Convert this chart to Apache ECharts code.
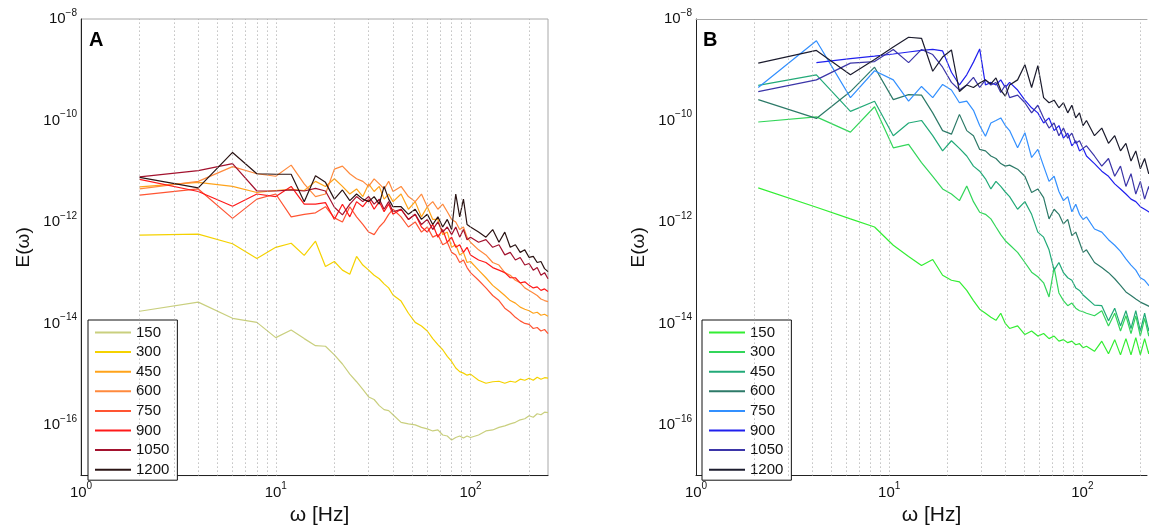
<!DOCTYPE html>
<html>
<head>
<meta charset="utf-8">
<script src="https://cdn.jsdelivr.net/npm/echarts@6/dist/echarts.min.js"></script>
<style>html,body{margin:0;padding:0;background:#fff}#c{width:1150px;height:531px}</style>
</head>
<body>
<div id="c"></div>
<script>
// ---------- DATA (values are log10 of E(ω)) ----------
const labels = ['150','300','450','600','750','900','1050','1200'];
const xGridLines = [2,3,4,5,6,7,8,9,10,20,30,40,50,60,70,80,90,100,200];
const yGridLines = [1e-16,1e-14,1e-12,1e-10];

// Panel A frequencies (Hz)
const fA = [2,4,6,8,10,12,14,16,18,20,22,24,26,28,30,32,34,36,38,40,44,48,52,56,60,64,68,72,76,80,84,88,92,96,100,110,120,130,140,150,160,170,180,190,200,210,220,230,240,250];
const A150 = [-13.76,-13.58,-13.9,-13.98,-14.28,-14.13,-14.3,-14.44,-14.45,-14.62,-14.8,-15.0,-15.15,-15.3,-15.45,-15.5,-15.62,-15.7,-15.72,-15.8,-15.95,-15.98,-16.0,-16.05,-16.08,-16.12,-16.1,-16.2,-16.22,-16.3,-16.25,-16.22,-16.26,-16.22,-16.25,-16.2,-16.12,-16.1,-16.05,-16.02,-15.98,-15.95,-15.9,-15.88,-15.82,-15.85,-15.78,-15.8,-15.75,-15.76];
const A300 = [-12.26,-12.24,-12.43,-12.72,-12.5,-12.42,-12.66,-12.38,-12.88,-12.78,-12.95,-13.03,-12.68,-12.85,-12.95,-13.05,-13.12,-13.22,-13.3,-13.44,-13.56,-13.8,-13.98,-14.05,-14.15,-14.3,-14.42,-14.52,-14.65,-14.75,-14.88,-14.95,-14.98,-15.02,-15.0,-15.12,-15.18,-15.15,-15.14,-15.18,-15.14,-15.16,-15.1,-15.12,-15.08,-15.12,-15.06,-15.1,-15.07,-15.08];
const A450 = [-11.31,-11.22,-11.3,-11.42,-11.38,-11.36,-11.38,-11.2,-11.3,-11.15,-11.3,-11.45,-11.35,-11.5,-11.25,-11.4,-11.3,-11.55,-11.45,-11.6,-11.45,-11.75,-11.6,-11.9,-11.7,-11.95,-11.95,-12.25,-12.2,-12.5,-12.45,-12.65,-12.6,-12.8,-12.78,-12.95,-13.1,-13.25,-13.35,-13.45,-13.55,-13.6,-13.68,-13.72,-13.75,-13.8,-13.78,-13.84,-13.82,-13.86];
const A600 = [-11.35,-11.2,-10.91,-11.05,-11.1,-10.88,-11.25,-11.5,-11.45,-10.96,-10.9,-11.05,-11.15,-11.2,-11.3,-11.15,-11.25,-11.35,-11.2,-11.4,-11.3,-11.5,-11.6,-11.45,-11.7,-11.6,-11.75,-11.65,-11.8,-11.95,-12.0,-12.15,-12.1,-12.3,-12.4,-12.55,-12.65,-12.8,-12.85,-13.0,-13.05,-13.15,-13.2,-13.3,-13.35,-13.4,-13.45,-13.52,-13.55,-13.57];
const A750 = [-11.47,-11.35,-11.93,-11.55,-11.45,-11.9,-11.85,-11.82,-11.7,-11.92,-12.0,-11.7,-11.9,-12.05,-12.2,-12.25,-12.1,-12.0,-11.85,-11.75,-11.9,-12.1,-12.0,-12.2,-12.1,-12.3,-12.25,-12.45,-12.4,-12.6,-12.65,-12.8,-12.75,-12.9,-13.0,-13.15,-13.3,-13.45,-13.55,-13.7,-13.78,-13.88,-13.95,-14.0,-14.02,-14.1,-14.08,-14.15,-14.12,-14.2];
const A900 = [-11.16,-11.4,-11.69,-11.45,-11.5,-11.3,-11.65,-11.65,-11.62,-11.95,-11.65,-11.9,-11.6,-11.7,-11.55,-11.75,-11.6,-11.8,-11.65,-11.85,-11.75,-11.95,-11.85,-12.1,-12.2,-12.05,-12.3,-12.15,-12.4,-12.3,-12.5,-12.45,-12.6,-12.5,-12.65,-12.75,-12.8,-12.9,-12.95,-13.0,-13.1,-13.1,-13.2,-13.18,-13.25,-13.3,-13.28,-13.35,-13.32,-13.37];
const A1050 = [-11.11,-10.99,-10.85,-11.39,-11.39,-11.37,-11.39,-11.34,-11.39,-11.71,-11.86,-11.65,-11.5,-11.6,-11.5,-11.65,-11.55,-11.75,-11.6,-11.8,-11.75,-11.95,-11.85,-12.05,-11.95,-12.15,-12.0,-12.2,-12.1,-12.25,-12.1,-12.3,-12.15,-12.35,-12.3,-12.4,-12.35,-12.5,-12.45,-12.65,-12.6,-12.75,-12.7,-12.85,-12.82,-12.95,-12.9,-13.05,-13.0,-13.12];
const A1200 = [-11.12,-11.33,-10.63,-11.05,-11.06,-11.06,-11.6,-11.09,-11.22,-11.55,-11.37,-11.58,-11.45,-11.55,-11.6,-11.5,-11.65,-11.3,-11.55,-11.7,-11.7,-11.85,-11.75,-11.95,-11.85,-12.05,-11.9,-12.1,-11.95,-12.15,-11.45,-11.9,-11.55,-12.05,-12.1,-12.2,-12.3,-12.15,-12.4,-12.2,-12.5,-12.45,-12.6,-12.55,-12.7,-12.68,-12.8,-12.78,-12.92,-12.98];

// Panel B frequencies (Hz)
const fB = [2.1,4.2,6.3,8.4,10.5,12.6,14.7,16.8,18.9,21,23.1,25.2,27.3,29.4,31.5,33.6,35.7,37.8,39.9,42,46.2,50.4,54.6,58.8,63,67.2,71.4,75.6,79.8,84,88.2,92.4,96.6,100.8,105,115.5,126,136.5,147,157.5,168,178.5,189,199.5,210,220.5,231,241.5];
const B150 = [-11.33,-11.71,-11.94,-12.1,-12.46,-12.68,-12.86,-12.74,-13.05,-13.15,-13.18,-13.35,-13.55,-13.72,-13.8,-13.88,-13.94,-13.8,-14.0,-14.1,-14.05,-14.22,-14.15,-14.25,-14.2,-14.3,-14.25,-14.35,-14.32,-14.38,-14.35,-14.42,-14.4,-14.48,-14.45,-14.55,-14.35,-14.6,-14.32,-14.62,-14.3,-14.62,-14.28,-14.62,-14.3,-14.6,-14.3,-14.6];
const B300 = [-10.03,-9.93,-10.23,-9.73,-10.54,-10.47,-10.83,-11.1,-11.35,-11.45,-11.58,-11.29,-11.6,-11.81,-11.85,-11.94,-12.1,-12.25,-12.37,-12.45,-12.6,-12.8,-12.99,-13.08,-13.2,-13.48,-12.9,-13.4,-13.55,-13.65,-13.6,-13.7,-13.75,-13.77,-13.8,-13.85,-13.75,-14.05,-13.8,-14.15,-13.85,-14.2,-13.85,-14.25,-13.9,-14.25,-13.9,-14.2];
const B450 = [-9.31,-9.1,-9.82,-9.62,-10.3,-10.05,-10.0,-10.3,-10.6,-10.4,-10.55,-10.7,-10.9,-11.0,-11.15,-11.35,-11.2,-11.3,-11.41,-11.5,-11.75,-11.6,-11.85,-12.2,-12.3,-12.55,-12.95,-12.8,-13.0,-13.1,-13.15,-13.3,-13.35,-13.44,-13.5,-13.64,-13.65,-13.95,-13.7,-14.05,-13.75,-14.1,-13.75,-14.15,-13.8,-14.15,-13.8,-14.15];
const B600 = [-9.59,-9.96,-9.43,-8.95,-9.59,-9.49,-9.5,-9.85,-10.2,-10.27,-9.88,-10.2,-10.3,-10.57,-10.6,-10.7,-10.75,-10.85,-10.9,-10.88,-10.96,-11.1,-11.42,-11.35,-11.52,-11.94,-11.75,-11.85,-12.04,-11.95,-12.27,-12.2,-12.4,-12.6,-12.55,-12.8,-12.9,-13.0,-13.12,-13.25,-13.38,-13.45,-13.52,-13.58,-13.62,-13.66,-13.7,-13.72];
const B750 = [-9.35,-8.43,-9.55,-9.02,-9.2,-9.62,-9.33,-9.55,-9.29,-9.4,-9.65,-9.62,-9.8,-10.1,-10.31,-10.05,-10.0,-9.95,-10.1,-10.2,-10.54,-10.24,-10.73,-10.57,-10.9,-11.2,-11.1,-11.4,-11.58,-11.5,-11.8,-11.65,-11.85,-11.95,-11.9,-12.14,-12.2,-12.35,-12.46,-12.58,-12.73,-12.85,-12.95,-13.1,-13.15,-13.25,-13.3,-13.35];
const B900 = [null,-8.86,-8.78,-8.73,-8.69,-8.65,-8.62,-8.6,-8.63,-9.05,-9.3,-9.1,-8.85,-8.59,-9.3,-9.25,-9.3,-9.2,-9.35,-9.25,-9.4,-9.6,-9.75,-9.85,-10.05,-9.95,-10.2,-10.1,-10.35,-10.25,-10.5,-10.4,-10.6,-10.55,-10.7,-10.85,-11.0,-11.1,-11.25,-11.35,-11.45,-11.55,-11.6,-11.7,-11.75,-11.8,-11.85,-11.9];
const B1050 = [-9.43,-9.2,-8.87,-8.84,-8.6,-8.86,-8.6,-8.7,-8.95,-9.25,-9.4,-9.3,-9.15,-9.35,-9.2,-9.3,-9.25,-9.45,-9.3,-9.55,-9.5,-9.65,-9.85,-9.7,-9.95,-10.15,-10.05,-10.3,-10.15,-10.35,-10.25,-10.45,-10.4,-10.55,-10.5,-10.7,-10.9,-10.75,-11.1,-10.9,-11.3,-11.05,-11.45,-11.2,-11.55,-11.3,-11.6,-11.4];
const B1200 = [-8.87,-8.62,-9.1,-8.8,-8.55,-8.36,-8.38,-9.03,-8.75,-8.61,-9.43,-9.3,-9.35,-9.26,-9.2,-9.28,-9.16,-9.4,-9.52,-9.3,-9.2,-8.9,-9.35,-8.92,-9.55,-9.65,-9.6,-9.75,-9.65,-9.85,-9.7,-9.95,-9.85,-10.1,-10.0,-10.3,-10.15,-10.45,-10.3,-10.6,-10.45,-10.8,-10.6,-10.95,-10.75,-11.05,-10.9,-11.1];

const colorsA = ['#c9cf7e','#f5d200','#ffa31a','#ff8a3d','#ff5533','#ff1a1a','#a3122e','#2b1414'];
const colorsB = ['#33ee33','#33d65a','#22aa78','#2d7a68','#3390ff','#2020ee','#3b35a8','#1c1c2e'];

// ---------- BUILD ----------
const FONT = '"Liberation Sans", Arial, Helvetica, sans-serif';
function pairs(f, v) {
  const out = [];
  for (let i = 0; i < f.length; i++) if (v[i] != null) out.push([f[i], Math.pow(10, v[i])]);
  return out;
}
const seriesA = [A150, A300, A450, A600, A750, A900, A1050, A1200];
const seriesB = [B150, B300, B450, B600, B750, B900, B1050, B1200];

function yFmt(v) {
  const l = Math.log10(v), e = Math.round(l);
  if (Math.abs(l - e) > 1e-6 || e % 2 !== 0) return '';
  return '{b|10}{s|' + (e < 0 ? '\u2212' : '') + Math.abs(e) + '}';
}
function xFmt(v) {
  const l = Math.log10(v), e = Math.round(l);
  if (Math.abs(l - e) > 1e-6) return '';
  return '{b|10}{s|' + e + '}';
}
const rich = {
  b: { fontSize: 15, fontFamily: FONT, color: '#111' },
  s: { fontSize: 10, fontFamily: FONT, color: '#111', padding: [0, 0, 12, 0] }
};

// right panel runs past the canvas edge: 10^0 at x=696, one decade = 194.5 px
const B_XMAX = 216;
const grids = [
  { left: 81, top: 19, width: 467, height: 460, show: true, borderColor: '#a8a8a8', borderWidth: 1 },
  { left: 696, top: 19, right: 0, height: 460, show: false }
];
function xAxis(i, max) {
  return {
    type: 'log', logBase: 10, gridIndex: i, min: 1, max: max,
    name: '\u03c9 [Hz]', nameLocation: 'middle', nameGap: 15,
    nameTextStyle: { fontSize: 21, fontFamily: FONT, color: '#111', verticalAlign: 'top',
      padding: i === 1 ? [0, 0, 0, 20] : [0, 0, 0, 10] },
    axisLine: { onZero: false, lineStyle: { color: '#222', width: 1 } },
    axisTick: { show: false }, splitLine: { show: false },
    axisLabel: { formatter: xFmt, rich: rich, margin: 6 }
  };
}
function yAxis(i) {
  return {
    type: 'log', logBase: 10, gridIndex: i, min: 1e-17, max: 1e-8,
    name: 'E(\u03c9)', nameLocation: 'middle', nameGap: 48,
    nameTextStyle: { fontSize: 19, fontFamily: FONT, color: '#111' },
    axisLine: { onZero: false, lineStyle: { color: '#222', width: 1 } },
    axisTick: { show: false }, splitLine: { show: false },
    axisLabel: { formatter: yFmt, rich: rich, margin: 4 }
  };
}
// top frame of the right panel
const topAxisB = {
  type: 'log', gridIndex: 1, min: 1, max: B_XMAX, position: 'top',
  axisLine: { onZero: false, lineStyle: { color: '#a8a8a8', width: 1 } },
  axisTick: { show: false }, axisLabel: { show: false }, splitLine: { show: false }
};
function gridSeries(i) {
  return {
    type: 'line', xAxisIndex: i, yAxisIndex: i, data: [[1, 1e-17]], symbol: 'none',
    lineStyle: { width: 0 }, silent: true, z: 1, legendHoverLink: false,
    markLine: {
      silent: true, symbol: ['none', 'none'], label: { show: false }, animation: false,
      lineStyle: { color: '#a0a0a0', type: [1, 3], width: 1 },
      emphasis: { disabled: true },
      data: xGridLines.map(x => ({ xAxis: x })).concat(yGridLines.map(y => ({ yAxis: y })))
    }
  };
}
const series = [gridSeries(0), gridSeries(1)];
labels.forEach((lab, k) => {
  series.push({
    name: 'A' + lab, type: 'line', xAxisIndex: 0, yAxisIndex: 0, symbol: 'none', z: 3,
    data: pairs(fA, seriesA[k]), lineStyle: { width: 1.2, color: colorsA[k] }, itemStyle: { color: colorsA[k] }
  });
});
labels.forEach((lab, k) => {
  series.push({
    name: 'B' + lab, type: 'line', xAxisIndex: 1, yAxisIndex: 1, symbol: 'none', z: 3,
    data: pairs(fB, seriesB[k]), lineStyle: { width: 1.2, color: colorsB[k] }, itemStyle: { color: colorsB[k] }
  });
});
function legend(prefix, left) {
  return {
    left: left, top: 320, orient: 'vertical', selectedMode: false,
    icon: 'path://M0,0 L36,0 L36,2 L0,2 Z',
    data: labels.map(l => prefix + l), formatter: n => n.slice(1),
    itemWidth: 36, itemHeight: 14, itemGap: 4.6, padding: [5, 8, 3, 7],
    borderColor: '#111', borderWidth: 1, backgroundColor: '#fff',
    textStyle: { fontSize: 15, fontFamily: FONT, color: '#111', lineHeight: 14 }
  };
}
const chart = echarts.init(document.getElementById('c'), null, { renderer: 'canvas' });
chart.setOption({
  animation: false,
  backgroundColor: '#fff',
  grid: grids,
  xAxis: [xAxis(0, 250), xAxis(1, B_XMAX), topAxisB],
  yAxis: [yAxis(0), yAxis(1)],
  legend: [legend('A', 88), legend('B', 702)],
  graphic: [
    { type: 'text', left: 89, top: 30, style: { text: 'A', font: 'bold 20px ' + FONT, fill: '#000' } },
    { type: 'text', left: 703, top: 30, style: { text: 'B', font: 'bold 20px ' + FONT, fill: '#000' } }
  ],
  series: series
});
</script>
</body>
</html>
